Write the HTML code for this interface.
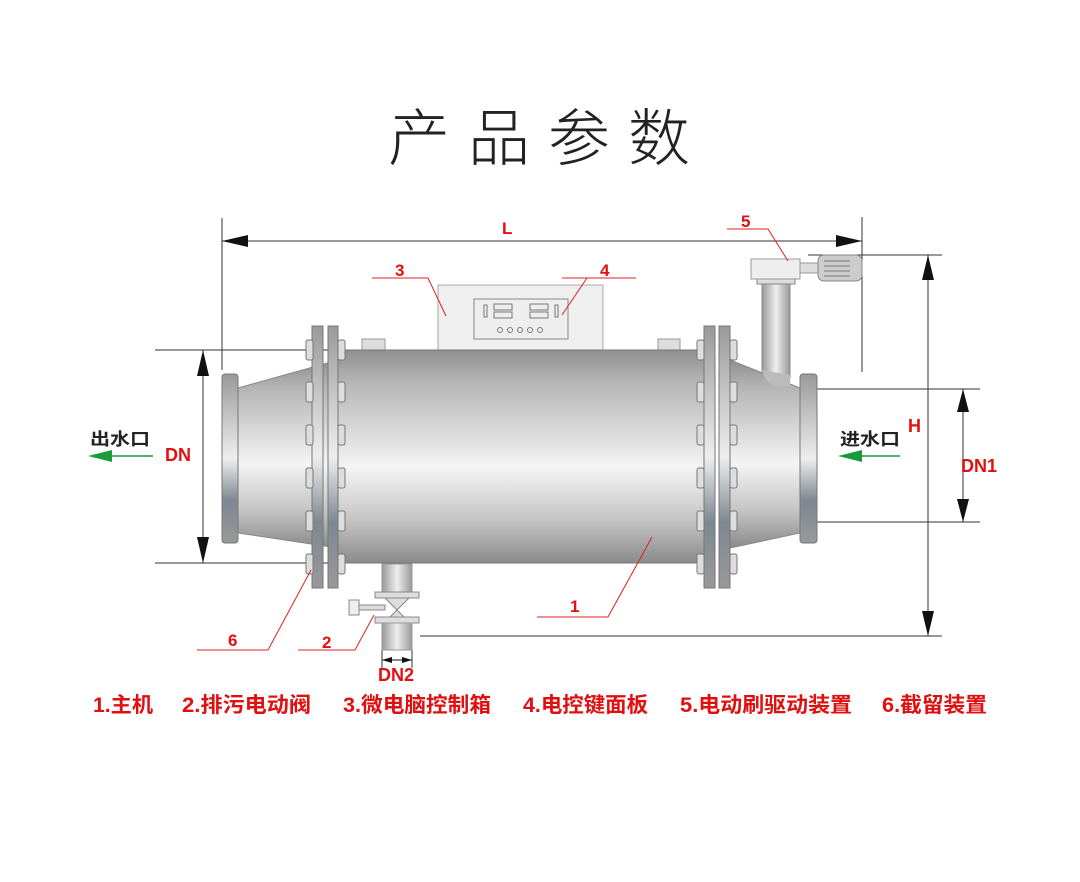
<!DOCTYPE html>
<html><head><meta charset="utf-8"><style>
html,body{margin:0;padding:0;background:#fff;}
svg{display:block;}
</style></head><body>
<svg width="1080" height="882" viewBox="0 0 1080 882" xmlns="http://www.w3.org/2000/svg" font-family="'Liberation Sans','Noto Sans CJK SC',sans-serif">
<defs>
<linearGradient id="body" x1="0" y1="0" x2="0" y2="1">
<stop offset="0" stop-color="#8f8f8f"/><stop offset="0.15" stop-color="#b5b5b5"/><stop offset="0.55" stop-color="#f4f4f4"/><stop offset="0.8" stop-color="#c4c4c4"/><stop offset="1" stop-color="#8a8a8a"/>
</linearGradient>
<linearGradient id="flange" x1="0" y1="0" x2="0" y2="1">
<stop offset="0" stop-color="#999"/><stop offset="0.5" stop-color="#eee"/><stop offset="0.75" stop-color="#7d8790"/><stop offset="1" stop-color="#999"/>
</linearGradient>
<linearGradient id="pipe" x1="0" y1="0" x2="1" y2="0">
<stop offset="0" stop-color="#999"/><stop offset="0.5" stop-color="#eee"/><stop offset="1" stop-color="#999"/>
</linearGradient>
</defs>

<text x="388" y="160" font-size="62" fill="#222" font-family="'Noto Sans CJK SC',sans-serif" font-weight="300" textLength="302">产品参数</text>

<g stroke="#333" stroke-width="1" fill="none">
<line x1="222" y1="218" x2="222" y2="370"/>
<line x1="862" y1="217" x2="862" y2="372"/>
<line x1="222" y1="241" x2="862" y2="241"/>
<line x1="808" y1="255" x2="942" y2="255"/>
<line x1="420" y1="636" x2="942" y2="636"/>
<line x1="928" y1="255" x2="928" y2="636"/>
<line x1="817" y1="389" x2="980" y2="389"/>
<line x1="817" y1="522" x2="980" y2="522"/>
<line x1="963" y1="389" x2="963" y2="522"/>
<line x1="155" y1="350" x2="355" y2="350"/>
<line x1="155" y1="563" x2="355" y2="563"/>
<line x1="203" y1="350" x2="203" y2="563"/>
<line x1="382" y1="650" x2="382" y2="668"/>
<line x1="412" y1="650" x2="412" y2="668"/>
</g>
<g fill="#111">
<path d="M222,241 L248,235 L248,247 z"/><path d="M862,241 L836,235 L836,247 z"/>
<path d="M928,255 L922,280 L934,280 z"/><path d="M928,636 L922,611 L934,611 z"/>
<path d="M963,389 L957,412 L969,412 z"/><path d="M963,522 L957,499 L969,499 z"/>
<path d="M203,350 L197,376 L209,376 z"/><path d="M203,563 L197,537 L209,537 z"/>
<path d="M382,660 L392,657 L392,663 z"/><path d="M412,660 L402,657 L402,663 z"/>
</g>
<line x1="382" y1="660" x2="412" y2="660" stroke="#111"/>

<rect x="438" y="285" width="165" height="66" fill="#efefef" stroke="#aaa"/>
<rect x="474" y="299" width="94" height="40" fill="#eee" stroke="#888"/>
<g fill="none" stroke="#777" stroke-width="1">
<rect x="494" y="304" width="18" height="6"/><rect x="494" y="312" width="18" height="6"/>
<rect x="530" y="304" width="18" height="6"/><rect x="530" y="312" width="18" height="6"/>
<rect x="484" y="305" width="3" height="12"/><rect x="555" y="305" width="3" height="12"/>
<circle cx="500" cy="330" r="2.5"/><circle cx="510" cy="330" r="2.5"/><circle cx="520" cy="330" r="2.5"/><circle cx="530" cy="330" r="2.5"/><circle cx="540" cy="330" r="2.5"/>
</g>
<rect x="362" y="339" width="23" height="12" fill="#ddd" stroke="#999"/>
<rect x="658" y="339" width="22" height="12" fill="#ddd" stroke="#999"/>

<rect x="762" y="282" width="28" height="96" fill="url(#pipe)" stroke="#888"/>
<rect x="757" y="278" width="38" height="6" fill="#ddd" stroke="#888"/>
<rect x="751" y="259" width="49" height="20" fill="#eee" stroke="#999"/>
<rect x="800" y="263" width="18" height="10" fill="#ddd" stroke="#999"/>
<rect x="818" y="255" width="44" height="26" rx="6" fill="#ccc" stroke="#888"/>
<g stroke="#777"><line x1="824" y1="261" x2="850" y2="261"/><line x1="824" y1="266" x2="850" y2="266"/><line x1="824" y1="271" x2="850" y2="271"/><line x1="824" y1="276" x2="850" y2="276"/></g>

<path d="M238,388 L338,360 L338,548 L238,533 z" fill="url(#body)" stroke="#888"/>
<path d="M730,360 L800,388 L800,533 L730,548 z" fill="url(#body)" stroke="#888"/>
<path d="M762,370 Q766,390 790,386 L790,375 z" fill="#bbb"/>
<rect x="222" y="374" width="16" height="169" rx="3" fill="url(#flange)" stroke="#777"/>
<rect x="800" y="374" width="17" height="169" rx="3" fill="url(#flange)" stroke="#777"/>

<rect x="338" y="350" width="370" height="213" fill="url(#body)"/>
<line x1="338" y1="350" x2="708" y2="350" stroke="#777"/>
<line x1="338" y1="563" x2="708" y2="563" stroke="#777"/>

<g fill="url(#flange)" stroke="#777">
<rect x="312" y="326" width="11" height="262"/><rect x="328" y="326" width="10" height="262"/>
<rect x="704" y="326" width="11" height="262"/><rect x="719" y="326" width="11" height="262"/>
</g>
<g fill="#ddd" stroke="#777">
<rect x="306" y="340" width="7" height="20" rx="2"/><rect x="338" y="340" width="7" height="20" rx="2"/>
<rect x="306" y="382" width="7" height="20" rx="2"/><rect x="338" y="382" width="7" height="20" rx="2"/>
<rect x="306" y="425" width="7" height="20" rx="2"/><rect x="338" y="425" width="7" height="20" rx="2"/>
<rect x="306" y="468" width="7" height="20" rx="2"/><rect x="338" y="468" width="7" height="20" rx="2"/>
<rect x="306" y="511" width="7" height="20" rx="2"/><rect x="338" y="511" width="7" height="20" rx="2"/>
<rect x="306" y="554" width="7" height="20" rx="2"/><rect x="338" y="554" width="7" height="20" rx="2"/>
<rect x="697" y="340" width="7" height="20" rx="2"/><rect x="730" y="340" width="7" height="20" rx="2"/>
<rect x="697" y="382" width="7" height="20" rx="2"/><rect x="730" y="382" width="7" height="20" rx="2"/>
<rect x="697" y="425" width="7" height="20" rx="2"/><rect x="730" y="425" width="7" height="20" rx="2"/>
<rect x="697" y="468" width="7" height="20" rx="2"/><rect x="730" y="468" width="7" height="20" rx="2"/>
<rect x="697" y="511" width="7" height="20" rx="2"/><rect x="730" y="511" width="7" height="20" rx="2"/>
<rect x="697" y="554" width="7" height="20" rx="2"/><rect x="730" y="554" width="7" height="20" rx="2"/>
</g>

<rect x="382" y="564" width="30" height="34" fill="url(#pipe)" stroke="#999"/>
<rect x="375" y="592" width="44" height="6" fill="#ddd" stroke="#888"/>
<path d="M385,598 L409,598 L397,610 z M385,622 L409,622 L397,610 z" fill="#ddd" stroke="#888"/>
<rect x="375" y="617" width="44" height="6" fill="#ddd" stroke="#888"/>
<rect x="382" y="623" width="30" height="27" fill="url(#pipe)" stroke="#999"/>
<rect x="349" y="600" width="10" height="15" fill="#eee" stroke="#888"/>
<rect x="359" y="605" width="26" height="5" fill="#ddd" stroke="#888"/>

<g stroke="#e02020" stroke-width="1" fill="none">
<polyline points="537,617 608,617 652,537"/>
<polyline points="298,650 355,650 374,615"/>
<polyline points="372,278 428,278 446,316"/>
<polyline points="562,278 636,278"/><polyline points="587,278 562,315"/>
<polyline points="727,229 768,229 788,261"/>
<polyline points="197,650 268,650 311,570"/>
</g>
<g fill="#e01010" font-weight="bold" font-size="17">
<text x="502" y="234">L</text>
<text x="570" y="612">1</text>
<text x="322" y="648">2</text>
<text x="395" y="276">3</text>
<text x="600" y="276">4</text>
<text x="741" y="227">5</text>
<text x="228" y="646">6</text>
<text x="165" y="461" font-size="18">DN</text>
<text x="908" y="432" font-size="18">H</text>
<text x="961" y="472" font-size="18">DN1</text>
<text x="378" y="681" font-size="18">DN2</text>
</g>

<text x="90" y="445" font-size="17" font-weight="bold" fill="#222" textLength="60" lengthAdjust="spacingAndGlyphs">出水口</text>
<text x="840" y="445" font-size="17" font-weight="bold" fill="#222" textLength="60" lengthAdjust="spacingAndGlyphs">进水口</text>
<line x1="105" y1="456" x2="153" y2="456" stroke="#1a9a3a" stroke-width="1.5"/>
<path d="M88,456 L112,450 L112,462 z" fill="#1a9a3a"/>
<line x1="855" y1="456" x2="900" y2="456" stroke="#1a9a3a" stroke-width="1.5"/>
<path d="M838,456 L862,450 L862,462 z" fill="#1a9a3a"/>

<g fill="#e01010" font-weight="bold" font-size="21">
<text x="93" y="712" textLength="60" lengthAdjust="spacingAndGlyphs">1.主机</text>
<text x="182" y="712" textLength="129" lengthAdjust="spacingAndGlyphs">2.排污电动阀</text>
<text x="343" y="712" textLength="148" lengthAdjust="spacingAndGlyphs">3.微电脑控制箱</text>
<text x="523" y="712" textLength="125" lengthAdjust="spacingAndGlyphs">4.电控键面板</text>
<text x="680" y="712" textLength="172" lengthAdjust="spacingAndGlyphs">5.电动刷驱动装置</text>
<text x="882" y="712" textLength="105" lengthAdjust="spacingAndGlyphs">6.截留装置</text>
</g>
</svg>
</body></html>
